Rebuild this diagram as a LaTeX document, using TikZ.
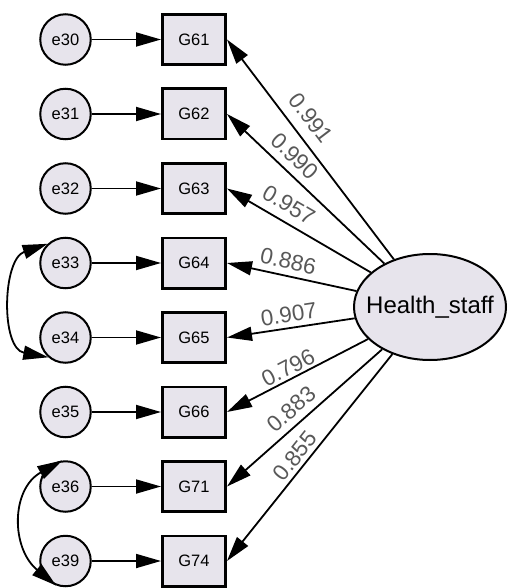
\documentclass[tikz,border=0pt]{standalone}
\usepackage{fontspec}
\setmainfont{Liberation Sans}
\usetikzlibrary{arrows.meta,shapes.geometric}
\definecolor{nodefill}{RGB}{231,228,236}
\definecolor{lblgray}{RGB}{88,88,88}
\begin{document}
\begin{tikzpicture}[x=1pt,y=1pt,
  >={Triangle[length=25pt,width=14pt]},
  obs/.style={draw, line width=2.6pt, fill=nodefill, minimum width=63.4pt,
    minimum height=50.4pt, inner sep=0pt, font=\fontsize{16.5}{18}\selectfont},
  err/.style={circle, draw, line width=2pt, fill=nodefill, minimum size=50.5pt,
    inner sep=0pt, font=\fontsize{16.5}{18}\selectfont},
  lat/.style={ellipse, draw, line width=2pt, fill=nodefill, minimum width=152pt,
    minimum height=106pt, inner sep=0pt},
  link/.style={line width=1.8pt, ->},
  load/.style={line width=1.8pt, <-},
  cov/.style={line width=1.8pt, <->},
  lbl/.style={sloped, inner sep=0pt, text=lblgray, font=\fontsize{22.5}{24}\selectfont}
]
\useasboundingbox (0,0) rectangle (507,-588);

% error terms
\node[err] (e30) at (65.5,-39.5)  {e30};
\node[err] (e31) at (65.5,-114)   {e31};
\node[err] (e32) at (65.5,-188.5) {e32};
\node[err] (e33) at (65.5,-263)   {e33};
\node[err] (e34) at (65.5,-337.5) {e34};
\node[err] (e35) at (65.5,-412)   {e35};
\node[err] (e36) at (65.5,-486.5) {e36};
\node[err] (e39) at (65.5,-561)   {e39};

% observed items
\node[obs] (g61) at (194,-39.5)  {G61};
\node[obs] (g62) at (194,-114)   {G62};
\node[obs] (g63) at (194,-188.5) {G63};
\node[obs] (g64) at (194,-263)   {G64};
\node[obs] (g65) at (194,-337.5) {G65};
\node[obs] (g66) at (194,-412)   {G66};
\node[obs] (g71) at (194,-486.5) {G71};
\node[obs] (g74) at (194,-561)   {G74};

% latent factor
\node[lat, label={[font=\fontsize{24}{26}\selectfont]center:Health\_staff}] (hs) at (430,-307) {};

% error paths
\draw[link] (e30) -- (g61);
\draw[link] (e31) -- (g62);
\draw[link] (e32) -- (g63);
\draw[link] (e33) -- (g64);
\draw[link] (e34) -- (g65);
\draw[link] (e35) -- (g66);
\draw[link] (e36) -- (g71);
\draw[link] (e39) -- (g74);

% factor loadings
\draw[load] (g61.east) -- node[lbl, pos=.41, above=10.6pt] {0.991} (hs);
\draw[load] (g62.east) -- node[lbl, pos=.36, above=7.4pt]  {0.990} (hs);
\draw[load] (g63.east) -- node[lbl, pos=.37, above=8.3pt]  {0.957} (hs);
\draw[load] (g64.east) -- node[lbl, pos=.45, above=5.7pt]  {0.886} (hs);
\draw[load] (g65.east) -- node[lbl, pos=.50, above=5pt]    {0.907} (hs);
\draw[load] (g66.east) -- node[lbl, pos=.47, above=2.5pt]  {0.796} (hs);
\draw[load] (g71.east) -- node[lbl, pos=.48, above=6.4pt]  {0.883} (hs);
\draw[load] (g74.east) -- node[lbl, pos=.47, above=3.8pt]  {0.855} (hs);

% error covariances
\draw[cov] (e33.133) .. controls (2.3,-259.3) and (0.4,-348.4) .. (e34.229);
\draw[cov] (e36.97) .. controls (10.7,-489.2) and (10.9,-548.2) .. (e39.249);
\end{tikzpicture}
\end{document}
